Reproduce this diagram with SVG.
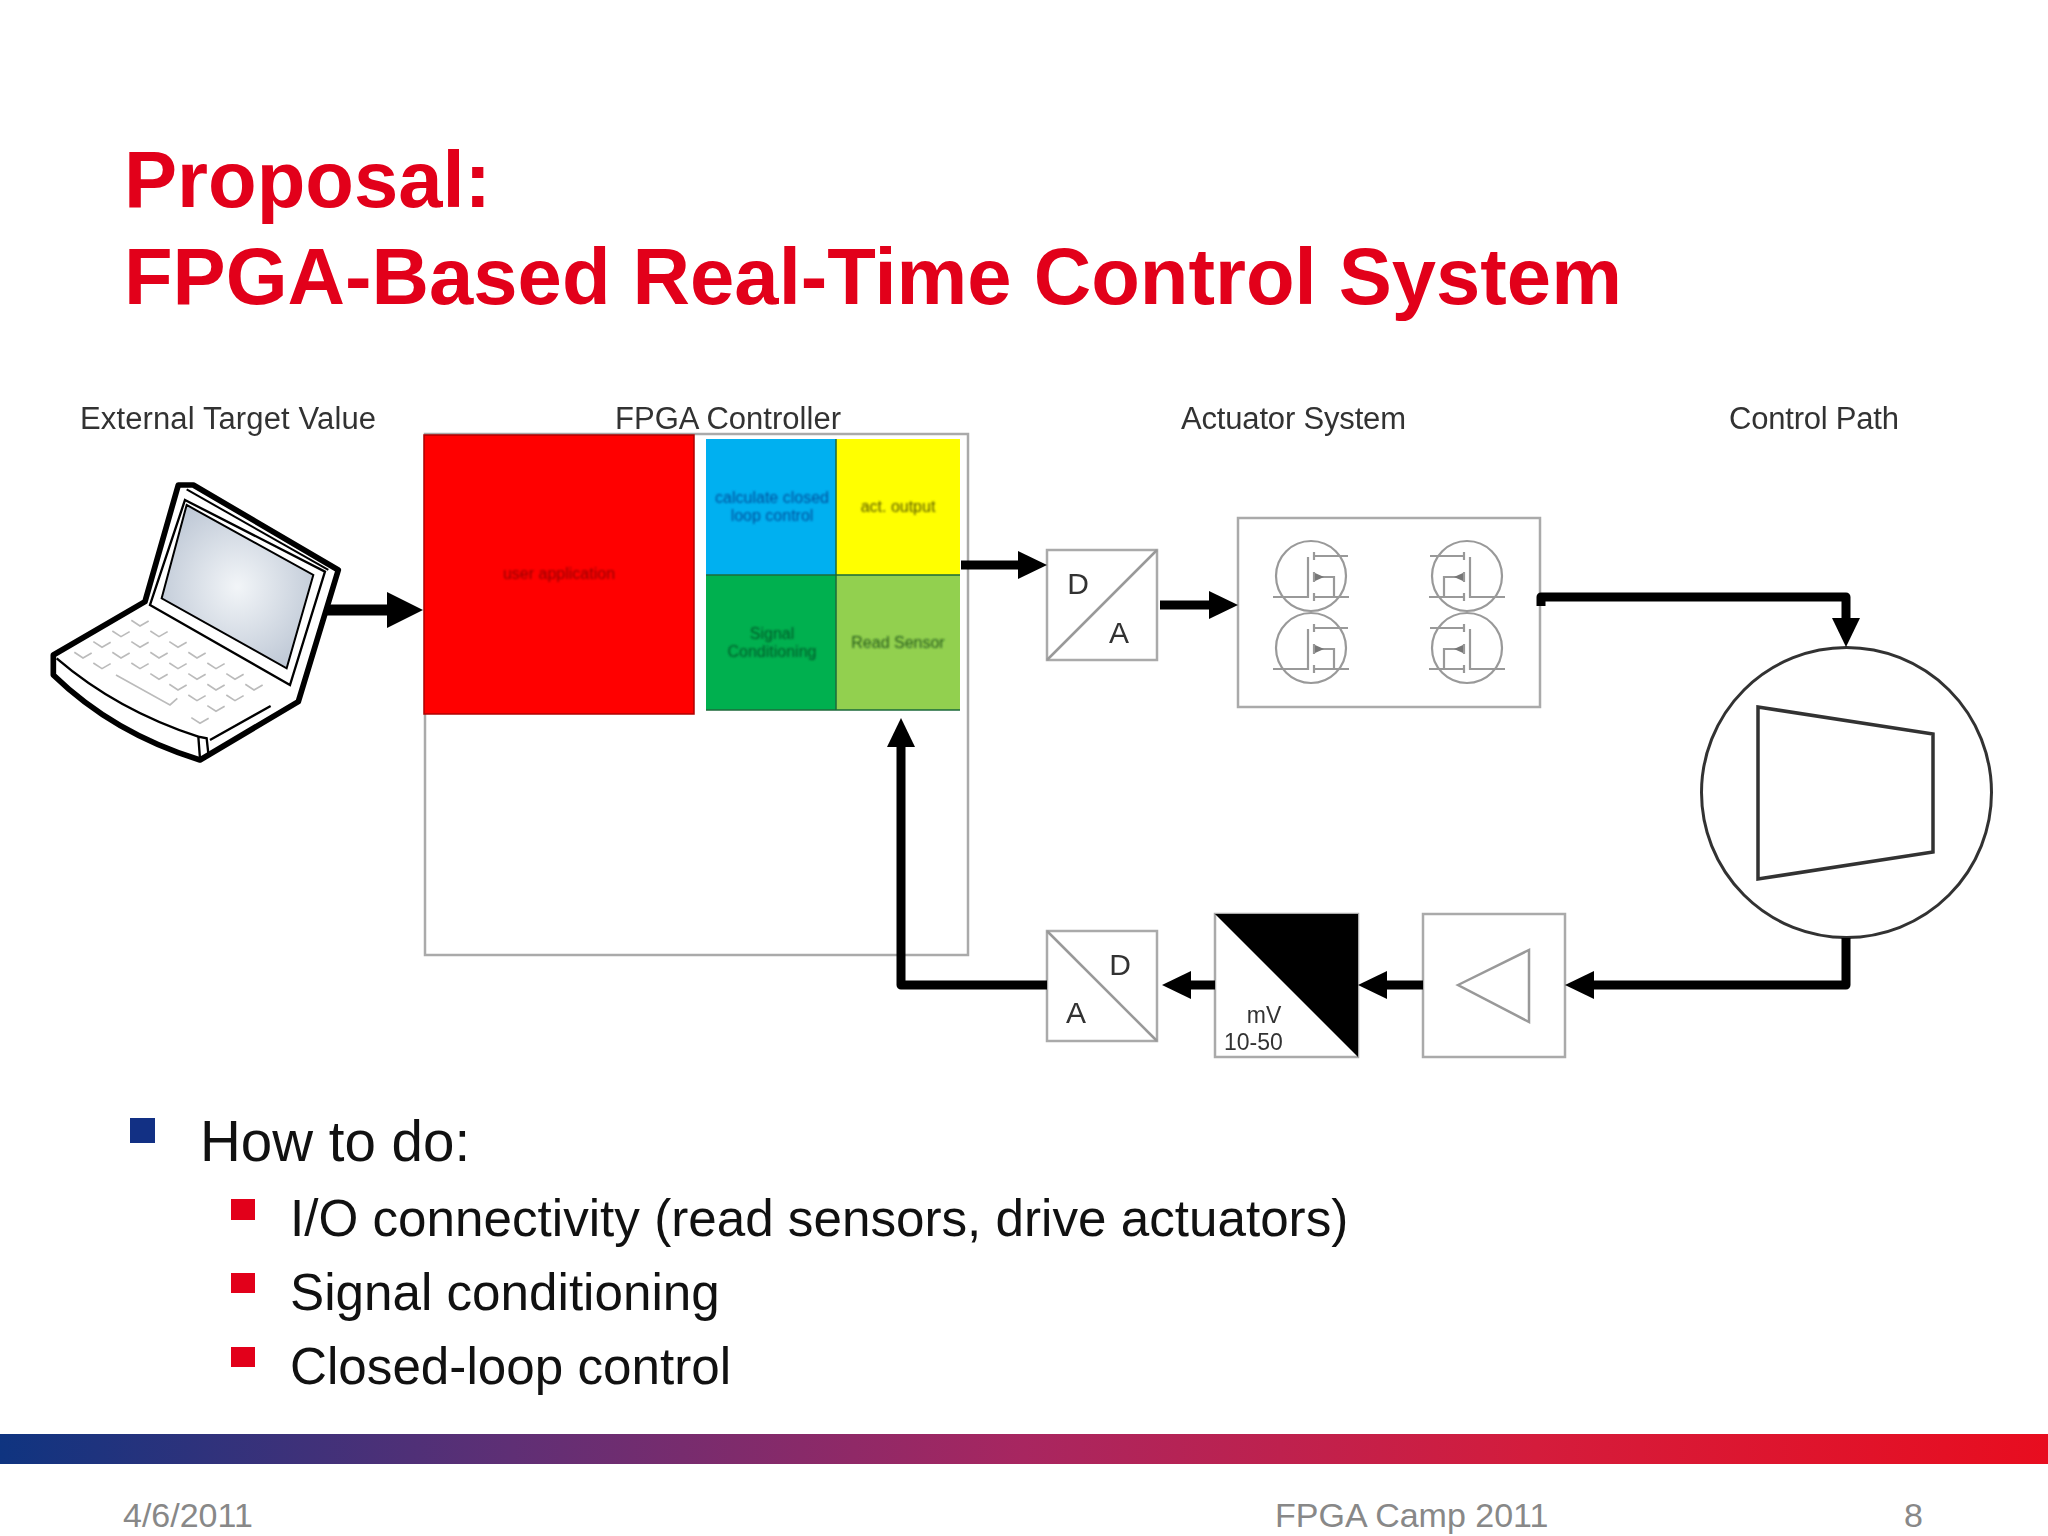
<svg xmlns="http://www.w3.org/2000/svg" width="2048" height="1536" viewBox="0 0 2048 1536">
<style>
text{font-family:"Liberation Sans",Arial,sans-serif}
.title{font-size:79.6px;font-weight:700;fill:#e2001a}
.hdr{font-size:31px;fill:#333}
.b1{font-size:56.5px;fill:#111}
.b2{font-size:51.2px;fill:#111}
.foot{font-size:34px;fill:#888}
.tiny{font-size:16px;text-anchor:middle;filter:url(#soft2)}
.box{fill:#fff;stroke:#aaa;stroke-width:2.5}
.thin{fill:none;stroke:#999;stroke-width:2.5}
.let{font-size:30px;fill:#333;text-anchor:middle}
.wire{fill:none;stroke:#000;stroke-width:9;stroke-linejoin:round}
.key{fill:none;stroke:#bbb;stroke-width:5}
.soft{filter:url(#soft)}
</style>
<defs>
<filter id="soft" x="-5%" y="-5%" width="110%" height="110%"><feGaussianBlur stdDeviation="0.7"/></filter>
<filter id="soft2" x="-10%" y="-30%" width="120%" height="160%"><feGaussianBlur stdDeviation="0.9"/></filter>
<linearGradient id="bar" x1="0" y1="0" x2="1" y2="0"><stop offset="0" stop-color="#0f3480"/><stop offset=".25" stop-color="#5f2f75"/><stop offset=".5" stop-color="#a82660"/><stop offset=".75" stop-color="#d41c3c"/><stop offset="1" stop-color="#e80d1f"/></linearGradient>
<radialGradient id="scr" cx=".5" cy=".5" r=".6"><stop offset="0" stop-color="#f2f5f8"/><stop offset="1" stop-color="#bcc6d4"/></radialGradient>
<marker id="head" markerUnits="userSpaceOnUse" markerWidth="32" markerHeight="30" refX="2" refY="15" orient="auto"><path d="M0,1 L29,15 L0,29 Z" fill="#000"/></marker>
<marker id="headL" markerUnits="userSpaceOnUse" markerWidth="38" markerHeight="38" refX="2" refY="19" orient="auto"><path d="M0,1 L36,19 L0,37 Z" fill="#000"/></marker>
<path id="k" d="M-26,-14 L0,3 L26,-12" class="key"/>
<g id="fet" fill="none" stroke="#999" stroke-width="2.2">
<circle r="35"/>
<path d="M-38,21 H-3 V-19 M3,-24 V-16 M3,-4 V6 M3,17 V25 M3,-20 H37 M3,21 H38 M3,1 H23 V21"/>
<path d="M4,-3 L13,1 L4,5 Z" fill="#777" stroke="none"/>
</g>
</defs>
<rect width="2048" height="1536" fill="#fff"/>

<g id="title">
<text class="title" x="124" y="207">Proposal:</text>
<text class="title" x="124" y="304">FPGA-Based Real-Time Control System</text>
</g>

<g id="headers" class="soft">
<text class="hdr" x="80" y="429" textLength="296">External Target Value</text>
<text class="hdr" x="615" y="429" textLength="226">FPGA Controller</text>
<text class="hdr" x="1181" y="429" textLength="225">Actuator System</text>
<text class="hdr" x="1729" y="429" textLength="170">Control Path</text>
</g>

<g id="laptop" class="soft" transform="translate(30,380) scale(.3333)">
<path d="M345,665 L445,315 L490,315 L925,570 L805,965 L510,1140 Q250,1060 70,885 L70,825 Z" fill="#fff" stroke="#000" stroke-width="17" stroke-linejoin="round"/>
<path d="M470,328 L895,570" fill="none" stroke="#000" stroke-width="6"/>
<path d="M465,360 L885,575 L780,915 L360,675 Z" fill="#fff" stroke="#000" stroke-width="7"/>
<path d="M470,375 L850,585 L770,865 L395,655 Z" fill="url(#scr)" stroke="#000" stroke-width="6"/>
<path d="M80,835 Q260,990 505,1070 L510,1135 M505,1070 L530,1075 L535,1120 M540,1080 L722,978" fill="none" stroke="#000" stroke-width="7"/>
<path d="M258,885 L420,975 L442,955" class="key"/>
<use href="#k" x="330" y="735"/><use href="#k" x="273" y="767"/><use href="#k" x="216" y="799"/><use href="#k" x="159" y="831"/>
<use href="#k" x="387" y="767"/><use href="#k" x="330" y="799"/><use href="#k" x="273" y="831"/><use href="#k" x="216" y="863"/>
<use href="#k" x="444" y="799"/><use href="#k" x="387" y="831"/><use href="#k" x="330" y="863"/>
<use href="#k" x="501" y="831"/><use href="#k" x="444" y="863"/><use href="#k" x="387" y="895"/>
<use href="#k" x="558" y="863"/><use href="#k" x="501" y="895"/><use href="#k" x="444" y="927"/>
<use href="#k" x="615" y="895"/><use href="#k" x="558" y="927"/><use href="#k" x="501" y="959"/>
<use href="#k" x="672" y="927"/><use href="#k" x="615" y="959"/><use href="#k" x="558" y="991"/><use href="#k" x="510" y="1027"/>
</g>

<g id="fpga-controller" class="soft">
<rect x="425" y="434" width="543" height="521" fill="#fff" stroke="#aaa" stroke-width="2.5"/>
<g id="user-application"><rect x="424" y="435" width="270" height="279" fill="#f00" stroke="#b00000" stroke-width="1.5"/>
<text class="tiny" x="559" y="579" fill="#900000">user application</text></g>
<g id="calc"><rect x="706" y="439" width="130" height="136" fill="#00b0f0"/>
<text class="tiny" x="772" y="503" fill="#00509c">calculate closed</text><text class="tiny" x="772" y="521" fill="#00509c">loop control</text></g>
<g id="act"><rect x="836" y="439" width="124" height="136" fill="#ff0"/>
<text class="tiny" x="898" y="512" fill="#5a5a00">act. output</text></g>
<g id="signal"><rect x="706" y="575" width="130" height="135" fill="#00b050"/>
<text class="tiny" x="772" y="639" fill="#005a28">Signal</text><text class="tiny" x="772" y="657" fill="#005a28">Conditioning</text></g>
<g id="read"><rect x="836" y="575" width="124" height="135" fill="#92d050"/>
<text class="tiny" x="898" y="648" fill="#255a18">Read Sensor</text></g>
<path d="M706,575 H960 M836,439 V710 M706,710 H960" fill="none" stroke="#1a6a3a" stroke-width="1.5"/>
</g>

<g id="da" class="soft">
<rect class="box" x="1047" y="550" width="110" height="110"/>
<path class="thin" d="M1047,660 L1157,550"/>
<text class="let" x="1078" y="594">D</text>
<text class="let" x="1119" y="643">A</text>
</g>

<g id="actuator" class="soft">
<rect class="box" x="1238" y="518" width="302" height="189"/>
<use href="#fet" x="1311" y="576"/>
<use href="#fet" x="1311" y="648"/>
<use href="#fet" transform="translate(1467,576) scale(-1,1)"/>
<use href="#fet" transform="translate(1467,648) scale(-1,1)"/>
</g>

<g id="control-path" class="soft">
<circle cx="1846.5" cy="792.5" r="145" fill="#fff" stroke="#333" stroke-width="3"/>
<path d="M1758,707 L1933,734 V852 L1758,879 Z" fill="#fff" stroke="#333" stroke-width="3.5"/>
</g>

<g id="amp" class="soft">
<rect class="box" x="1423" y="914" width="142" height="143"/>
<path class="thin" d="M1458,985 L1529,950 V1022 Z"/>
</g>

<g id="attenuator" class="soft">
<rect class="box" x="1215" y="914" width="143" height="143"/>
<path d="M1215,914 H1358 V1057 Z" fill="#000"/>
<text x="1264" y="1023" font-size="23" fill="#333" text-anchor="middle">mV</text>
<text x="1224" y="1050" font-size="23" fill="#333">10-50</text>
</g>

<g id="ad" class="soft">
<rect class="box" x="1047" y="931" width="110" height="110"/>
<path class="thin" d="M1047,931 L1157,1041"/>
<text class="let" x="1120" y="975">D</text>
<text class="let" x="1076" y="1023">A</text>
</g>

<g id="connectors" class="soft">
<path class="wire" style="stroke-width:11" d="M326,610 H389" marker-end="url(#headL)"/>
<path class="wire" d="M961,565 H1020" marker-end="url(#head)"/>
<path class="wire" d="M1160,605 H1211" marker-end="url(#head)"/>
<path class="wire" d="M1541,606 V597 H1846 V620" marker-end="url(#head)"/>
<path class="wire" d="M1846,938 V985 H1592" marker-end="url(#head)"/>
<path class="wire" d="M1423,985 H1385" marker-end="url(#head)"/>
<path class="wire" d="M1215,985 H1189" marker-end="url(#head)"/>
<path class="wire" d="M1047,985 H901 V745" marker-end="url(#head)"/>
</g>

<g id="bullets">
<rect x="130" y="1118" width="25" height="25" fill="#123084"/>
<text class="b1" x="200" y="1161">How to do:</text>
<rect x="231" y="1199" width="24" height="21" fill="#e2001a"/>
<text class="b2" x="290" y="1236">I/O connectivity (read sensors, drive actuators)</text>
<rect x="231" y="1273" width="24" height="20" fill="#e2001a"/>
<text class="b2" x="290" y="1310">Signal conditioning</text>
<rect x="231" y="1347" width="24" height="20" fill="#e2001a"/>
<text class="b2" x="290" y="1384">Closed-loop control</text>
</g>

<g id="footer">
<rect x="0" y="1434" width="2048" height="30" fill="url(#bar)"/>
<text class="foot" x="123" y="1527">4/6/2011</text>
<text class="foot" x="1275" y="1527">FPGA Camp 2011</text>
<text class="foot" x="1904" y="1527">8</text>
</g>
</svg>
